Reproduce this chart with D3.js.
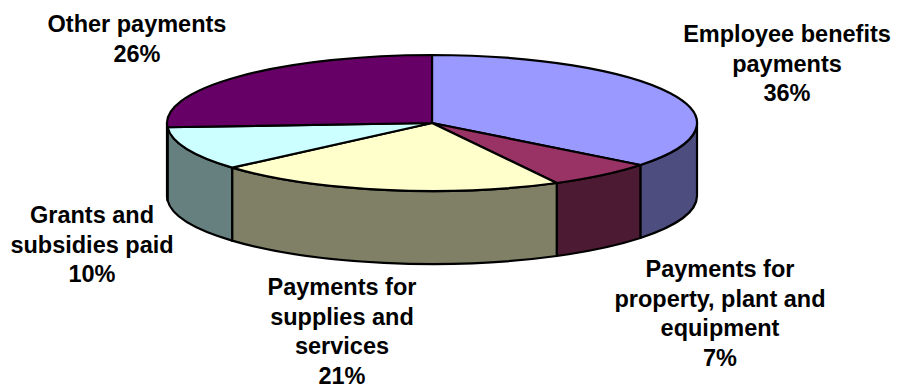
<!DOCTYPE html>
<html>
<head>
<meta charset="utf-8">
<script src="https://cdn.jsdelivr.net/npm/d3@7"></script>
<style>
  html, body { margin: 0; padding: 0; background: #fff; }
  svg { display: block; }
  text { font-family: "Liberation Sans", Arial, sans-serif; font-weight: bold; fill: #000; }
</style>
</head>
<body>
<svg id="chart" width="897" height="390"></svg>
<script>
// ---- data ----
const categories = [
  "Employee benefits payments",
  "Payments for property, plant and equipment",
  "Payments for supplies and services",
  "Grants and subsidies paid",
  "Other payments"
];
const values = [35.6, 6.6, 21.4, 10.4, 26.0];
const percentLabels = ["36%", "7%", "21%", "10%", "26%"];
const labelLines = [
  ["Employee benefits", "payments"],
  ["Payments for", "property, plant and", "equipment"],
  ["Payments for", "supplies and", "services"],
  ["Grants and", "subsidies paid"],
  ["Other payments"]
];
const topColors  = ["#9999FF", "#993366", "#FFFFCC", "#CCFFFF", "#660066"];
const sideColors = ["#4D4D80", "#4D1A33", "#808066", "#668080", "#330033"];

// ---- layout ----
const cx = 432, cy = 123, rx = 265, ry = 68, depth = 73;
const labelAnchors = [[787, 42], [720, 277], [342, 295], [92, 223], [137, 32]];
const lineGap = 29.5;

const svg = d3.select("#chart");
const pie = d3.pie().sort(null).value(d => d).startAngle(0).endAngle(2 * Math.PI);
const arcs = pie(values);

const px = a => cx + rx * Math.sin(a);
const py = a => cy - ry * Math.cos(a);

function topPath(a0, a1) {
  const large = (a1 - a0) > Math.PI ? 1 : 0;
  return `M${cx},${cy}L${px(a0)},${py(a0)}A${rx},${ry} 0 ${large} 1 ${px(a1)},${py(a1)}Z`;
}
function sidePath(a0, a1) {
  const s = Math.max(a0, Math.PI / 2), e = Math.min(a1, 3 * Math.PI / 2);
  if (e <= s) return null;
  const large = (e - s) > Math.PI ? 1 : 0;
  return `M${px(s)},${py(s)}A${rx},${ry} 0 ${large} 1 ${px(e)},${py(e)}` +
         `L${px(e)},${py(e) + depth}A${rx},${ry} 0 ${large} 0 ${px(s)},${py(s) + depth}Z`;
}

const g = svg.append("g");
g.selectAll("path.side")
  .data(arcs.filter(d => sidePath(d.startAngle, d.endAngle)))
  .join("path")
  .attr("class", "side")
  .attr("d", d => sidePath(d.startAngle, d.endAngle))
  .attr("fill", d => sideColors[d.index])
  .attr("stroke", "#000").attr("stroke-width", 2.2).attr("stroke-linejoin", "round");

g.selectAll("path.top")
  .data(arcs)
  .join("path")
  .attr("class", "top")
  .attr("d", d => topPath(d.startAngle, d.endAngle))
  .attr("fill", d => topColors[d.index])
  .attr("stroke", "#000").attr("stroke-width", 2.2).attr("stroke-linejoin", "round");

// labels
const lg = svg.append("g");
arcs.forEach(d => {
  const i = d.index;
  const [lx, ly] = labelAnchors[i];
  const lines = labelLines[i].concat([percentLabels[i]]);
  const t = lg.append("text")
    .attr("text-anchor", "middle")
    .attr("font-size", 23.5);
  lines.forEach((ln, k) => {
    t.append("tspan").attr("x", lx).attr("y", ly + k * lineGap).text(ln);
  });
});
</script>
</body>
</html>
